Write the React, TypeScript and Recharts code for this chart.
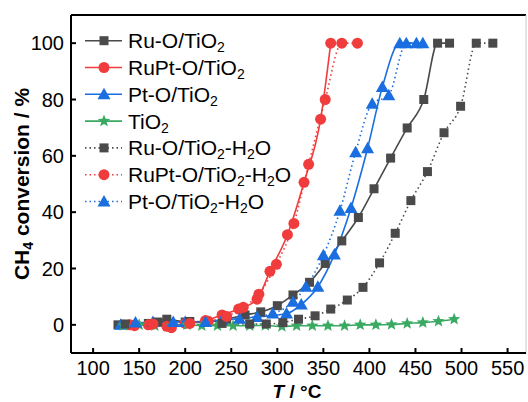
import React from 'react';
import { LineChart, Line, XAxis, YAxis, ReferenceLine } from 'recharts';

// ---- data (T in °C, CH4 conversion in %) ----
const ruT = [127, 160, 180, 200, 222, 245, 265, 282, 300, 317, 335, 352, 370, 388, 405, 423, 441, 459, 474, 487];
const ruV = [0, 0.5, 2, 1, 1, 2, 3.5, 4.6, 6.8, 10.6, 15.1, 21.8, 29.8, 38.1, 48.3, 59.2, 69.9, 80, 100, 100];

const rupiT = [140, 160, 180, 200, 222, 240, 258, 278, 292, 311, 329, 347, 358];
const rupiV = [0, 0, -0.5, 0.5, 1.5, 3.5, 5.6, 9.1, 19, 32, 50.6, 73, 100];

const ptT = [130, 165, 200, 240, 278, 310, 326, 344, 362, 380, 398, 414, 433, 451];
const ptV = [0, 1, 1, 1.7, 2.8, 4, 7.2, 13.5, 25, 41.5, 62.7, 84.4, 100, 100];

const tiT = [133, 150, 167, 185, 202, 218, 235, 252, 270, 287, 305, 321, 338, 355, 373, 390, 407, 424, 441, 458, 475, 492];
const tiV = [-0.2, 0, -0.3, -0.3, 0, -0.3, -0.3, -0.3, -0.3, -0.2, -0.6, -0.3, -0.3, -0.3, -0.3, 0, 0, 0.1, 0.5, 0.8, 1.3, 2];

const ruWT = [135, 170, 205, 240, 270, 288, 306, 323, 341, 358, 376, 393, 411, 428, 445, 463, 481, 499, 516, 534];
const ruWV = [0.3, 1, 1.2, 0.5, 0.3, 0.3, 0.8, 2, 3.2, 5.6, 8.8, 13.3, 22, 32.5, 44.1, 54.4, 68.2, 77.6, 100, 100];

const rupiWT = [145, 165, 185, 205, 225, 245, 263, 280, 299, 318, 334, 352, 370, 387];
const rupiWV = [-0.3, 0.3, -1, 0.5, 1.3, 3, 6.2, 10.9, 21.5, 36, 57, 80, 100, 100];

const ptWT = [146, 187, 222, 259, 295, 317, 331, 350, 368, 385, 403, 421, 440, 458];
const ptWV = [0.8, 1, 1, 2.2, 4, 8.2, 13.5, 24.7, 40.5, 61.3, 78.5, 81.5, 100, 100];

const xTicks = [100, 150, 200, 250, 300, 350, 400, 450, 500, 550];
const yTicks = [0, 20, 40, 60, 80, 100];

const seriesNames = [
  'Ru-O/TiO2',
  'RuPt-O/TiO2',
  'Pt-O/TiO2',
  'TiO2',
  'Ru-O/TiO2-H2O',
  'RuPt-O/TiO2-H2O',
  'Pt-O/TiO2-H2O',
];

const GRAY = '#4a4a4a';
const RED = '#f03c3c';
const BLUE = '#1a6ee0';
const GREEN = '#3aaa63';
const FONT = '"Liberation Sans", Arial, sans-serif';

const toData = (xs: number[], ys: number[]) => xs.map((x, i) => ({ x, y: ys[i] }));

type Shape = 'square' | 'circle' | 'triangle' | 'star';

const series: { name: string; data: { x: number; y: number }[]; color: string; shape: Shape; dotted: boolean }[] = [
  { name: seriesNames[0], data: toData(ruT, ruV), color: GRAY, shape: 'square', dotted: false },
  { name: seriesNames[1], data: toData(rupiT, rupiV), color: RED, shape: 'circle', dotted: false },
  { name: seriesNames[2], data: toData(ptT, ptV), color: BLUE, shape: 'triangle', dotted: false },
  { name: seriesNames[3], data: toData(tiT, tiV), color: GREEN, shape: 'star', dotted: false },
  { name: seriesNames[4], data: toData(ruWT, ruWV), color: GRAY, shape: 'square', dotted: true },
  { name: seriesNames[5], data: toData(rupiWT, rupiWV), color: RED, shape: 'circle', dotted: true },
  { name: seriesNames[6], data: toData(ptWT, ptWV), color: BLUE, shape: 'triangle', dotted: true },
];

function starPoints(x: number, y: number, R: number, r: number) {
  const pts: string[] = [];
  for (let i = 0; i < 10; i++) {
    const ang = -Math.PI / 2 + (i * Math.PI) / 5;
    const rad = i % 2 === 0 ? R : r;
    pts.push(`${x + rad * Math.cos(ang)},${y + rad * Math.sin(ang)}`);
  }
  return pts.join(' ');
}

function Marker({ shape, x, y, color }: { shape: Shape; x: number; y: number; color: string }) {
  if (shape === 'square') return <rect x={x - 4.5} y={y - 4.5} width={9} height={9} fill={color} />;
  if (shape === 'circle') return <circle cx={x} cy={y} r={5.5} fill={color} />;
  if (shape === 'triangle')
    return <polygon points={`${x},${y - 6.5} ${x + 6.5},${y + 5} ${x - 6.5},${y + 5}`} fill={color} />;
  return <polygon points={starPoints(x, y, 6.5, 2.8)} fill={color} />;
}

const makeDot = (shape: Shape, color: string) => (props: any) => {
  const { cx, cy, index } = props;
  if (cx == null || cy == null) return <g key={index} />;
  return (
    <g key={index}>
      <Marker shape={shape} x={cx} y={cy} color={color} />
    </g>
  );
};

function SubText({ text, subSize, dy }: { text: string; subSize: number; dy: number }) {
  const parts = text.split(/(\d)/).filter((p) => p.length > 0);
  let down = false;
  return (
    <>
      {parts.map((p, i) => {
        if (/^\d$/.test(p)) {
          down = true;
          return (
            <tspan key={i} dy={dy} fontSize={subSize}>
              {p}
            </tspan>
          );
        }
        const d = down ? -dy : 0;
        down = false;
        return (
          <tspan key={i} dy={d}>
            {p}
          </tspan>
        );
      })}
    </>
  );
}

const XTick = (props: any) => {
  const { x, y, payload } = props;
  return (
    <g>
      <line x1={x} x2={x} y1={y} y2={y - 5} stroke="#000" strokeWidth={2} />
      <text x={x} y={y + 22} textAnchor="middle" fontSize={20} fontFamily={FONT} fill="#000">
        {payload.value}
      </text>
    </g>
  );
};

const YTick = (props: any) => {
  const { x, y, payload } = props;
  return (
    <g>
      <line x1={x} x2={x + 5} y1={y} y2={y} stroke="#000" strokeWidth={2} />
      <text x={x - 7} y={y + 7} textAnchor="end" fontSize={20} fontFamily={FONT} fill="#000">
        {payload.value}
      </text>
    </g>
  );
};

export default function App() {
  const legendY0 = 40.7;
  const legendStep = 26.8;
  return (
    <div style={{ position: 'absolute', left: 0, top: 0, width: 528, height: 402, background: '#fff', overflow: 'hidden' }}>
      <LineChart width={528} height={402} margin={{ top: 15, right: 2, bottom: 0, left: 0 }}>
        <XAxis
          dataKey="x"
          type="number"
          domain={[76, 570]}
          ticks={xTicks}
          allowDataOverflow
          height={49}
          tickSize={0}
          tickMargin={0}
          tickLine={false}
          axisLine={{ stroke: '#000', strokeWidth: 2 }}
          tick={<XTick />}
          interval={0}
        />
        <YAxis
          type="number"
          domain={[-10, 110]}
          ticks={yTicks}
          allowDataOverflow
          width={71}
          tickSize={0}
          tickMargin={0}
          tickLine={false}
          axisLine={{ stroke: '#000', strokeWidth: 2 }}
          tick={<YTick />}
          interval={0}
        />
        <ReferenceLine y={110} stroke="#000" strokeWidth={2} />
        <ReferenceLine x={570} stroke="#c8c8c8" strokeWidth={1} />
        {series.map((s) => (
          <Line
            key={s.name}
            data={s.data}
            dataKey="y"
            type="monotone"
            stroke={s.color}
            strokeWidth={1.6}
            strokeDasharray={s.dotted ? '1.5 3' : undefined}
            dot={makeDot(s.shape, s.color)}
            activeDot={false}
            isAnimationActive={false}
          />
        ))}
      </LineChart>
      <svg
        width={528}
        height={402}
        style={{ position: 'absolute', left: 0, top: 0, pointerEvents: 'none' }}
      >
        {series.map((s, i) => {
          const cy = legendY0 + i * legendStep;
          return (
            <g key={s.name}>
              <line
                x1={85}
                x2={122}
                y1={cy}
                y2={cy}
                stroke={s.color}
                strokeWidth={1.6}
                strokeDasharray={s.dotted ? '1.5 3' : undefined}
              />
              <Marker shape={s.shape} x={104} y={cy} color={s.color} />
              <text x={128} y={cy + 7.5} fontSize={21} fontFamily={FONT} fill="#000">
                <SubText text={s.name} subSize={14} dy={4} />
              </text>
            </g>
          );
        })}
        <g transform="translate(29,184) rotate(-90)">
          <text x={0} y={0} textAnchor="middle" fontSize={21} fontWeight="bold" fontFamily={FONT} fill="#000">
            <SubText text="CH4 conversion / %" subSize={14} dy={4} />
          </text>
        </g>
        <text x={297} y={397.5} textAnchor="middle" fontSize={19} fontWeight="bold" fontFamily={FONT} fill="#000">
          <tspan fontStyle="italic">T</tspan>
          <tspan> / °C</tspan>
        </text>
      </svg>
    </div>
  );
}
